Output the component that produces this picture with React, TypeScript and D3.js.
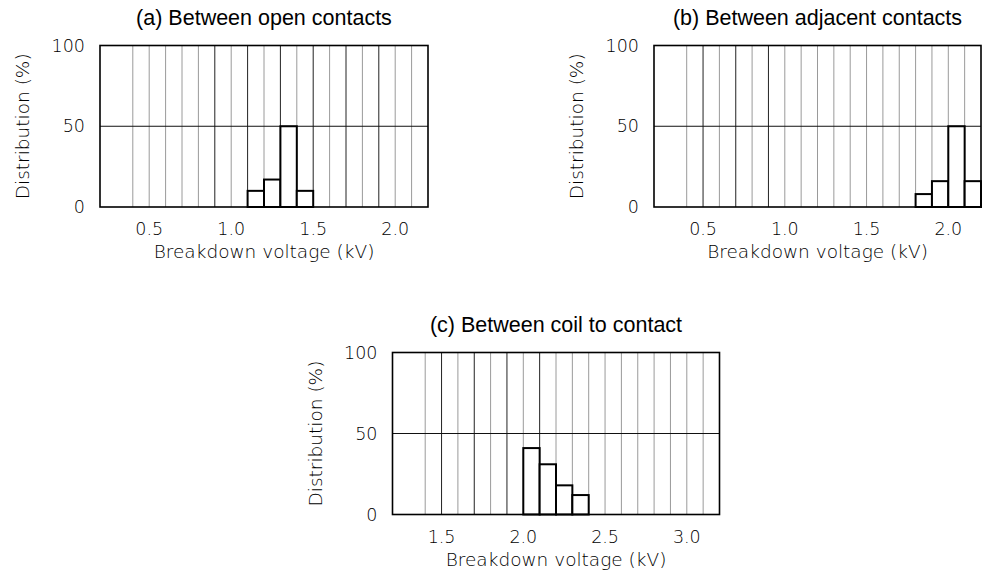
import React from 'react'
import { scaleLinear, range } from 'd3'

// bin starts (kV, 0.1 kV wide) and share of samples (%)
const openBins = [1.1, 1.2, 1.3, 1.4]
const openValues = [10, 17, 50, 10]
const adjacentBins = [1.8, 1.9, 2.0, 2.1]
const adjacentValues = [8, 16, 50, 16]
const coilBins = [2.0, 2.1, 2.2, 2.3]
const coilValues = [41, 31, 18, 12]

const lowDomain = [0.2, 2.2]
const highDomain = [1.2, 3.2]
const lowTicks = [0.5, 1.0, 1.5, 2.0]
const highTicks = [1.5, 2.0, 2.5, 3.0]
const yTicks = [0, 50, 100]

const titles = [
    '(a) Between open contacts',
    '(b) Between adjacent contacts',
    '(c) Between coil to contact',
]
const xTitle = 'Breakdown voltage (kV)'
const yTitle = 'Distribution (%)'

const BIN = 0.1
const labelFont = '"DejaVu Sans", sans-serif'
const titleFont = '"Liberation Sans", Arial, sans-serif'

const Panel = ({ title, bins, values, domain, ticks, dark, box }) => {
    const x = scaleLinear().domain(domain).range([box.x, box.x + box.w])
    const y = scaleLinear().domain([0, 100]).range([box.y + box.h, box.y])
    const bottom = box.y + box.h
    // grid every 0.1 kV, the first one left out like the original
    const grid = range(domain[0] + 0.2, domain[1] - 0.05, BIN).map(v => Math.round(v * 10) / 10)
    const isDark = v => dark.some(d => Math.abs(d - v) < 1e-6)

    return (
        <g>
            {grid.map(v => (
                <line key={'g' + v} x1={x(v)} x2={x(v)} y1={box.y} y2={bottom}
                    stroke={isDark(v) ? '#222' : '#9a9a9a'} strokeWidth={1} />
            ))}
            <line x1={box.x} x2={box.x + box.w} y1={y(50)} y2={y(50)} stroke="#111" strokeWidth={1} />
            {bins.map((b, i) => (
                <rect key={'b' + b} x={x(b)} y={y(values[i])}
                    width={x(b + BIN) - x(b)} height={bottom - y(values[i])}
                    fill="#fff" stroke="#000" strokeWidth={2} />
            ))}
            <rect x={box.x} y={box.y} width={box.w} height={box.h}
                fill="none" stroke="#000" strokeWidth={1.6} />

            <text x={box.x + box.w / 2} y={box.y - 21} textAnchor="middle"
                fontFamily={titleFont} fontSize={21.5} fill="#000">{title}</text>

            {yTicks.map(t => (
                <text key={'y' + t} x={box.x - 15} y={y(t) + 6} textAnchor="end"
                    fontFamily={labelFont} fontWeight={200} fontSize={17.5} fill="#000">{t}</text>
            ))}
            {ticks.map(t => (
                <text key={'x' + t} x={x(t)} y={bottom + 28} textAnchor="middle"
                    fontFamily={labelFont} fontWeight={200} fontSize={17.5} fill="#000">{t.toFixed(1)}</text>
            ))}
            <text x={box.x + box.w / 2} y={bottom + 51} textAnchor="middle"
                fontFamily={labelFont} fontWeight={200} fontSize={18.5} fill="#000">{xTitle}</text>
            <text transform={`translate(${box.x - 71},${box.y + box.h / 2}) rotate(-90)`}
                textAnchor="middle" fontFamily={labelFont} fontWeight={200} fontSize={18.5} fill="#000">{yTitle}</text>
        </g>
    )
}

const App = () => {
    return (
        <svg width={982} height={583} style={{ position: 'absolute', left: 0, top: 0, background: '#fff' }}>
            <Panel title={titles[0]} bins={openBins} values={openValues} domain={lowDomain} ticks={lowTicks}
                dark={[0.9, 1.1, 1.3, 1.5, 1.7, 1.9]} box={{ x: 100, y: 45.5, w: 328, h: 161.5 }} />
            <Panel title={titles[1]} bins={adjacentBins} values={adjacentValues} domain={lowDomain} ticks={lowTicks}
                dark={[0.5, 0.7, 0.9]} box={{ x: 654, y: 45.5, w: 327, h: 161.5 }} />
            <Panel title={titles[2]} bins={coilBins} values={coilValues} domain={highDomain} ticks={highTicks}
                dark={[1.5, 1.7, 1.9, 2.1]} box={{ x: 392.5, y: 352.5, w: 327, h: 162 }} />
        </svg>
    )
}

export default App
